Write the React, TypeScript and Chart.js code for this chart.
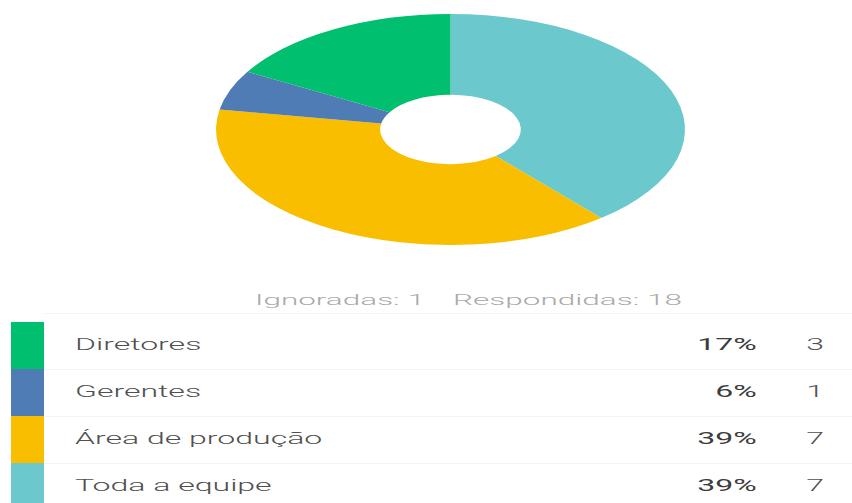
import React, { useEffect, useRef } from "react";
import { Chart, registerables } from "chart.js";

Chart.register(...registerables);

const categories = ["Diretores", "Gerentes", "Área de produção", "Toda a equipe"];
const counts = [3, 1, 7, 7];
const percentLabels = ["17%", "6%", "39%", "39%"];
const colors = ["#00BF6F", "#507CB6", "#F9BE00", "#6BC8CD"];
const skippedLabel = "Ignoradas: 1";
const answeredLabel = "Respondidas: 18";

const SX = 2.03; // horizontal stretch of the whole picture
const TX = 2.0;

const stretchPlugin = {
  id: "stretch",
  beforeDatasetsDraw(chart: any) {
    const { ctx, chartArea } = chart;
    const cx = (chartArea.left + chartArea.right) / 2;
    const cy = (chartArea.top + chartArea.bottom) / 2;
    ctx.save();
    ctx.translate(cx, cy);
    ctx.scale(SX, 1);
    ctx.translate(-cx, -cy);
  },
  afterDatasetsDraw(chart: any) {
    chart.ctx.restore();
  },
};

function Txt(props: {
  text: string;
  x: number;
  y: number;
  align: "left" | "right";
  size: number;
  color: string;
  weight?: number;
  sx?: number;
}) {
  const { text, x, y, align, size, color, weight, sx } = props;
  const style: React.CSSProperties = {
    position: "absolute",
    top: y - size / 2,
    lineHeight: `${size}px`,
    fontSize: size,
    fontFamily: "Roboto, sans-serif",
    fontWeight: weight ?? 400,
    color,
    whiteSpace: "nowrap",
    transform: `scaleX(${sx ?? TX})`,
    transformOrigin: align === "left" ? "left center" : "right center",
  };
  if (align === "left") style.left = x;
  else style.right = 852 - x;
  return <span style={style}>{text}</span>;
}

export default function App() {
  const ref = useRef<HTMLCanvasElement>(null);

  useEffect(() => {
    if (!ref.current) return;
    const order = [3, 2, 1, 0];
    const chart = new Chart(ref.current, {
      type: "doughnut",
      data: {
        labels: order.map((i) => categories[i]),
        datasets: [
          {
            data: order.map((i) => counts[i]),
            backgroundColor: order.map((i) => colors[i]),
            borderWidth: 0,
            hoverOffset: 0,
            offset: 0,
          },
        ],
      },
      options: {
        animation: false,
        responsive: true,
        maintainAspectRatio: false,
        cutout: "30%",
        rotation: 0,
        layout: { padding: { left: 49, right: 0, top: 0, bottom: 0 } },
        plugins: {
          legend: { display: false },
          tooltip: { enabled: false },
        },
        events: [],
      },
      plugins: [stretchPlugin],
    });
    return () => chart.destroy();
  }, []);

  const rowTop = 322;
  const rowH = 47;

  return (
    <div
      style={{
        position: "absolute",
        left: 0,
        top: 0,
        width: 852,
        height: 503,
        overflow: "hidden",
        background: "#fff",
      }}
    >
      <div style={{ position: "absolute", left: 0, top: 14, width: 852, height: 231 }}>
        <canvas ref={ref} />
      </div>

      <Txt text={skippedLabel} x={255} y={300} align="left" size={15} color="#aaaaaa" weight={300} sx={2.1} />
      <Txt text={answeredLabel} x={453} y={300} align="left" size={15} color="#aaaaaa" weight={300} sx={2.1} />

      <div
        style={{
          position: "absolute",
          left: 44,
          right: 0,
          top: 313,
          height: 1,
          background: "#f3f3f3",
        }}
      />
      {categories.map((c, i) => {
        const top = rowTop + i * rowH;
        const cy = top + rowH / 2 - 1;
        return (
          <React.Fragment key={c}>
            <div
              style={{
                position: "absolute",
                left: 11,
                width: 33,
                top,
                height: rowH,
                background: colors[i],
              }}
            />
            {i > 0 && (
              <div
                style={{
                  position: "absolute",
                  left: 44,
                  right: 0,
                  top: top,
                  height: 1,
                  background: "#f3f3f3",
                }}
              />
            )}
            <Txt text={c} x={75} y={cy} align="left" size={16} color="#505050" weight={300} />
            <Txt text={percentLabels[i]} x={757} y={cy} align="right" size={16} color="#3c3c3c" weight={400} />
            <Txt text={String(counts[i])} x={824} y={cy} align="right" size={16} color="#505050" weight={300} />
          </React.Fragment>
        );
      })}
    </div>
  );
}
